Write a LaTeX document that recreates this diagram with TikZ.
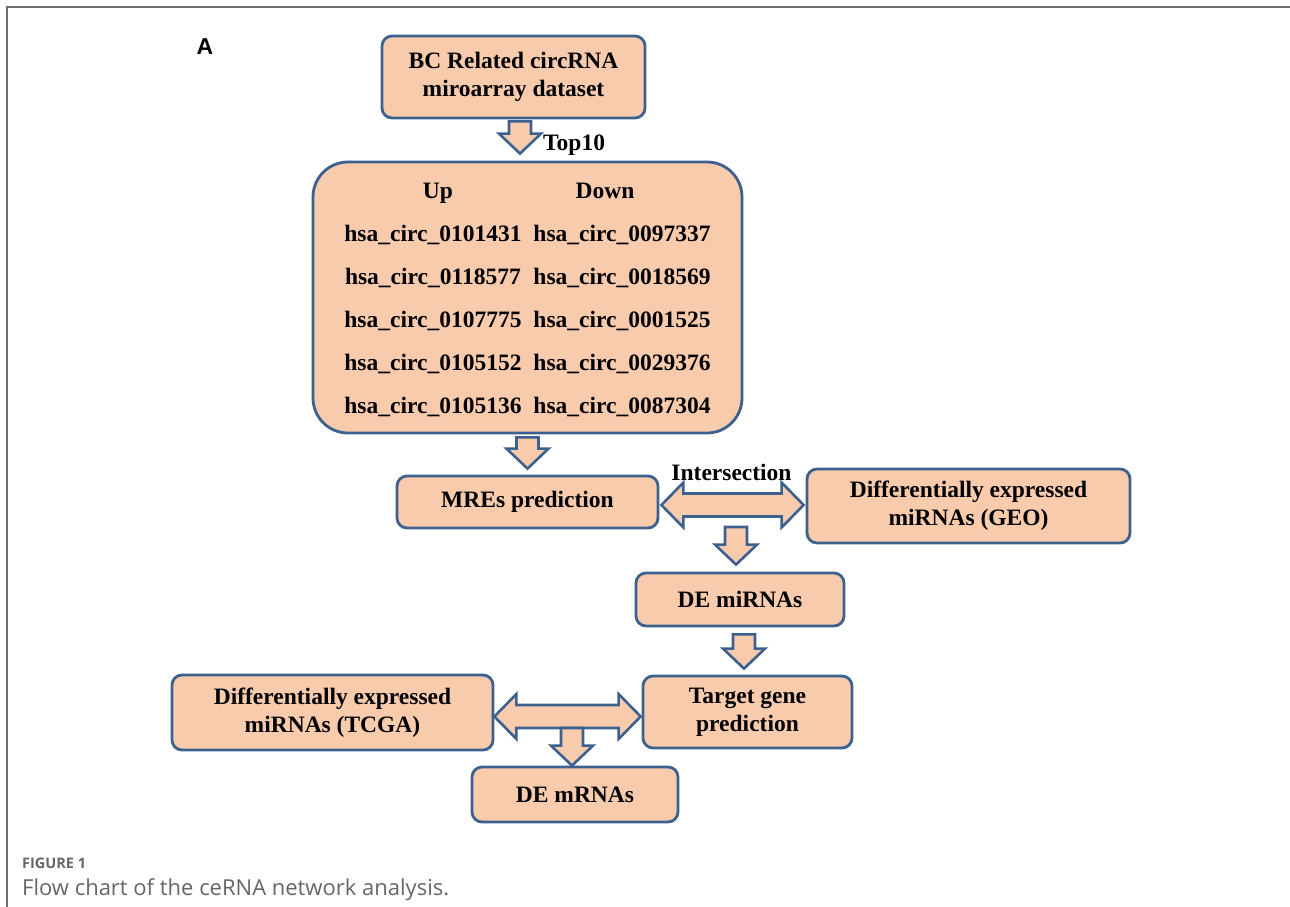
\documentclass[tikz,border=0pt]{standalone}
\usepackage{fontspec}
\setmainfont{Liberation Serif}
\newfontfamily\panelfont{Liberation Sans}
\newfontfamily\capfont{Open Sans}
\usepackage{tikz}
\usetikzlibrary{positioning,calc}

\definecolor{boxfill}{HTML}{F8CBAD}
\definecolor{boxline}{HTML}{3D618E}
\definecolor{framegray}{HTML}{6E6E6E}
\definecolor{capgray}{HTML}{666666}

\tikzset{
  flowbox/.style={draw=boxline, fill=boxfill, line width=2.8pt, rounded corners=10pt,
    align=center, inner sep=0pt, font=\fontsize{23.5}{28}\selectfont\bfseries},
  flowlabel/.style={inner sep=0pt, font=\fontsize{23.5}{28}\selectfont\bfseries},
  blockline/.style={draw=boxline, fill=boxfill, line width=2.6pt, line join=miter},
}

% vertical block arrow: #1 start, #2 tip (only y of #2 used)
\newcommand{\dnblock}[2]{%
  \draw[blockline] let \p1=(#1), \p2=(#2) in
    ({\x1-11pt},\y1) -- ({\x1+11pt},\y1) -- ({\x1+11pt},{\y2+20pt})
    -- ({\x1+21pt},{\y2+20pt}) -- (\x1,\y2) -- ({\x1-21pt},{\y2+20pt})
    -- ({\x1-11pt},{\y2+20pt}) -- cycle;}

% horizontal two-headed block arrow: #1 left tip, #2 right tip (only x of #2 used)
\newcommand{\lrblock}[2]{%
  \draw[blockline] let \p1=(#1), \p2=(#2) in
    (\x1,\y1) -- ({\x1+22pt},{\y1+22.5pt}) -- ({\x1+22pt},{\y1+11.5pt})
    -- ({\x2-22pt},{\y1+11.5pt}) -- ({\x2-22pt},{\y1+22.5pt}) -- (\x2,\y1)
    -- ({\x2-22pt},{\y1-22.5pt}) -- ({\x2-22pt},{\y1-11.5pt})
    -- ({\x1+22pt},{\y1-11.5pt}) -- ({\x1+22pt},{\y1-22.5pt}) -- cycle;}

\begin{document}
\begin{tikzpicture}[x=1pt, y=-1pt]
  \useasboundingbox (0,0) rectangle (1290,907);
  \draw[framegray, line width=2pt] (7,907) -- (7,7) -- (1290,7);

  \node[font=\panelfont\bfseries\fontsize{23}{27}\selectfont] (panel) at (205,47) {A};

  \node[flowbox, minimum width=263pt, minimum height=82pt] (src) at (513.5,77)
    {BC Related circRNA\\miroarray dataset};
  \node[flowbox, rounded corners=35pt, minimum width=429pt, minimum height=271pt] (top) at (527.5,297.5) {%
    \fontsize{23.5}{43}\selectfont
    \begin{tabular}{@{}c@{\hspace{12pt}}c@{}}
      \hspace*{10pt}Up & Down\hspace*{34pt}\\
      hsa\_circ\_0101431 & hsa\_circ\_0097337\\
      hsa\_circ\_0118577 & hsa\_circ\_0018569\\
      hsa\_circ\_0107775 & hsa\_circ\_0001525\\
      hsa\_circ\_0105152 & hsa\_circ\_0029376\\
      hsa\_circ\_0105136 & hsa\_circ\_0087304
    \end{tabular}};
  \node[flowbox, minimum width=261pt, minimum height=52pt] (mres) at (527.5,502) {MREs prediction};
  \node[flowbox, minimum width=323pt, minimum height=74pt] (geo) at (968.5,506)
    {Differentially expressed\\miRNAs (GEO)};
  \node[flowbox, minimum width=208pt, minimum height=53pt] (demi) at (740,599.5) {DE miRNAs};
  \node[flowbox, minimum width=209pt, minimum height=72pt] (target) at (747.5,712)
    {Target gene\\prediction};
  \node[flowbox, minimum width=321pt, minimum height=75pt] (tcga) at (332.5,712.5)
    {Differentially expressed\\miRNAs (TCGA)};
  \node[flowbox, minimum width=206pt, minimum height=55pt] (demr) at (575,794.5) {DE mRNAs};

  \node[flowlabel, anchor=west] (top10) at (543,145) {Top10};
  \node[flowlabel] (isect) at (731.5,472) {Intersection};
  \coordinate (isectfoot) at (736,527);
  \coordinate (tcgafoot) at (572,728);

  \dnblock{[xshift=6.5pt,yshift=-2pt]src.south}{[yshift=7pt]top.north}
  \dnblock{[yshift=-3pt]top.south}{[yshift=6pt]mres.north}
  \lrblock{[xshift=2pt,yshift=-3pt]mres.east}{[xshift=-2pt]geo.west}
  \dnblock{isectfoot}{[yshift=7pt]demi.north}
  \dnblock{[xshift=4pt,yshift=-7pt]demi.south}{[yshift=6pt]target.north}
  \lrblock{[yshift=-4pt]tcga.east}{[xshift=-1pt]target.west}
  \dnblock{tcgafoot}{demr.north}

  \node[anchor=base west, inner sep=0pt, text=capgray, font=\capfont\bfseries\fontsize{14.5}{17}\selectfont] (figno) at (22,868) {FIGURE 1};
  \node[anchor=base west, inner sep=0pt, text=capgray, font=\capfont\fontsize{22}{26}\selectfont] (caption) at (22,895) {Flow chart of the ceRNA network analysis.};
\end{tikzpicture}
\end{document}
